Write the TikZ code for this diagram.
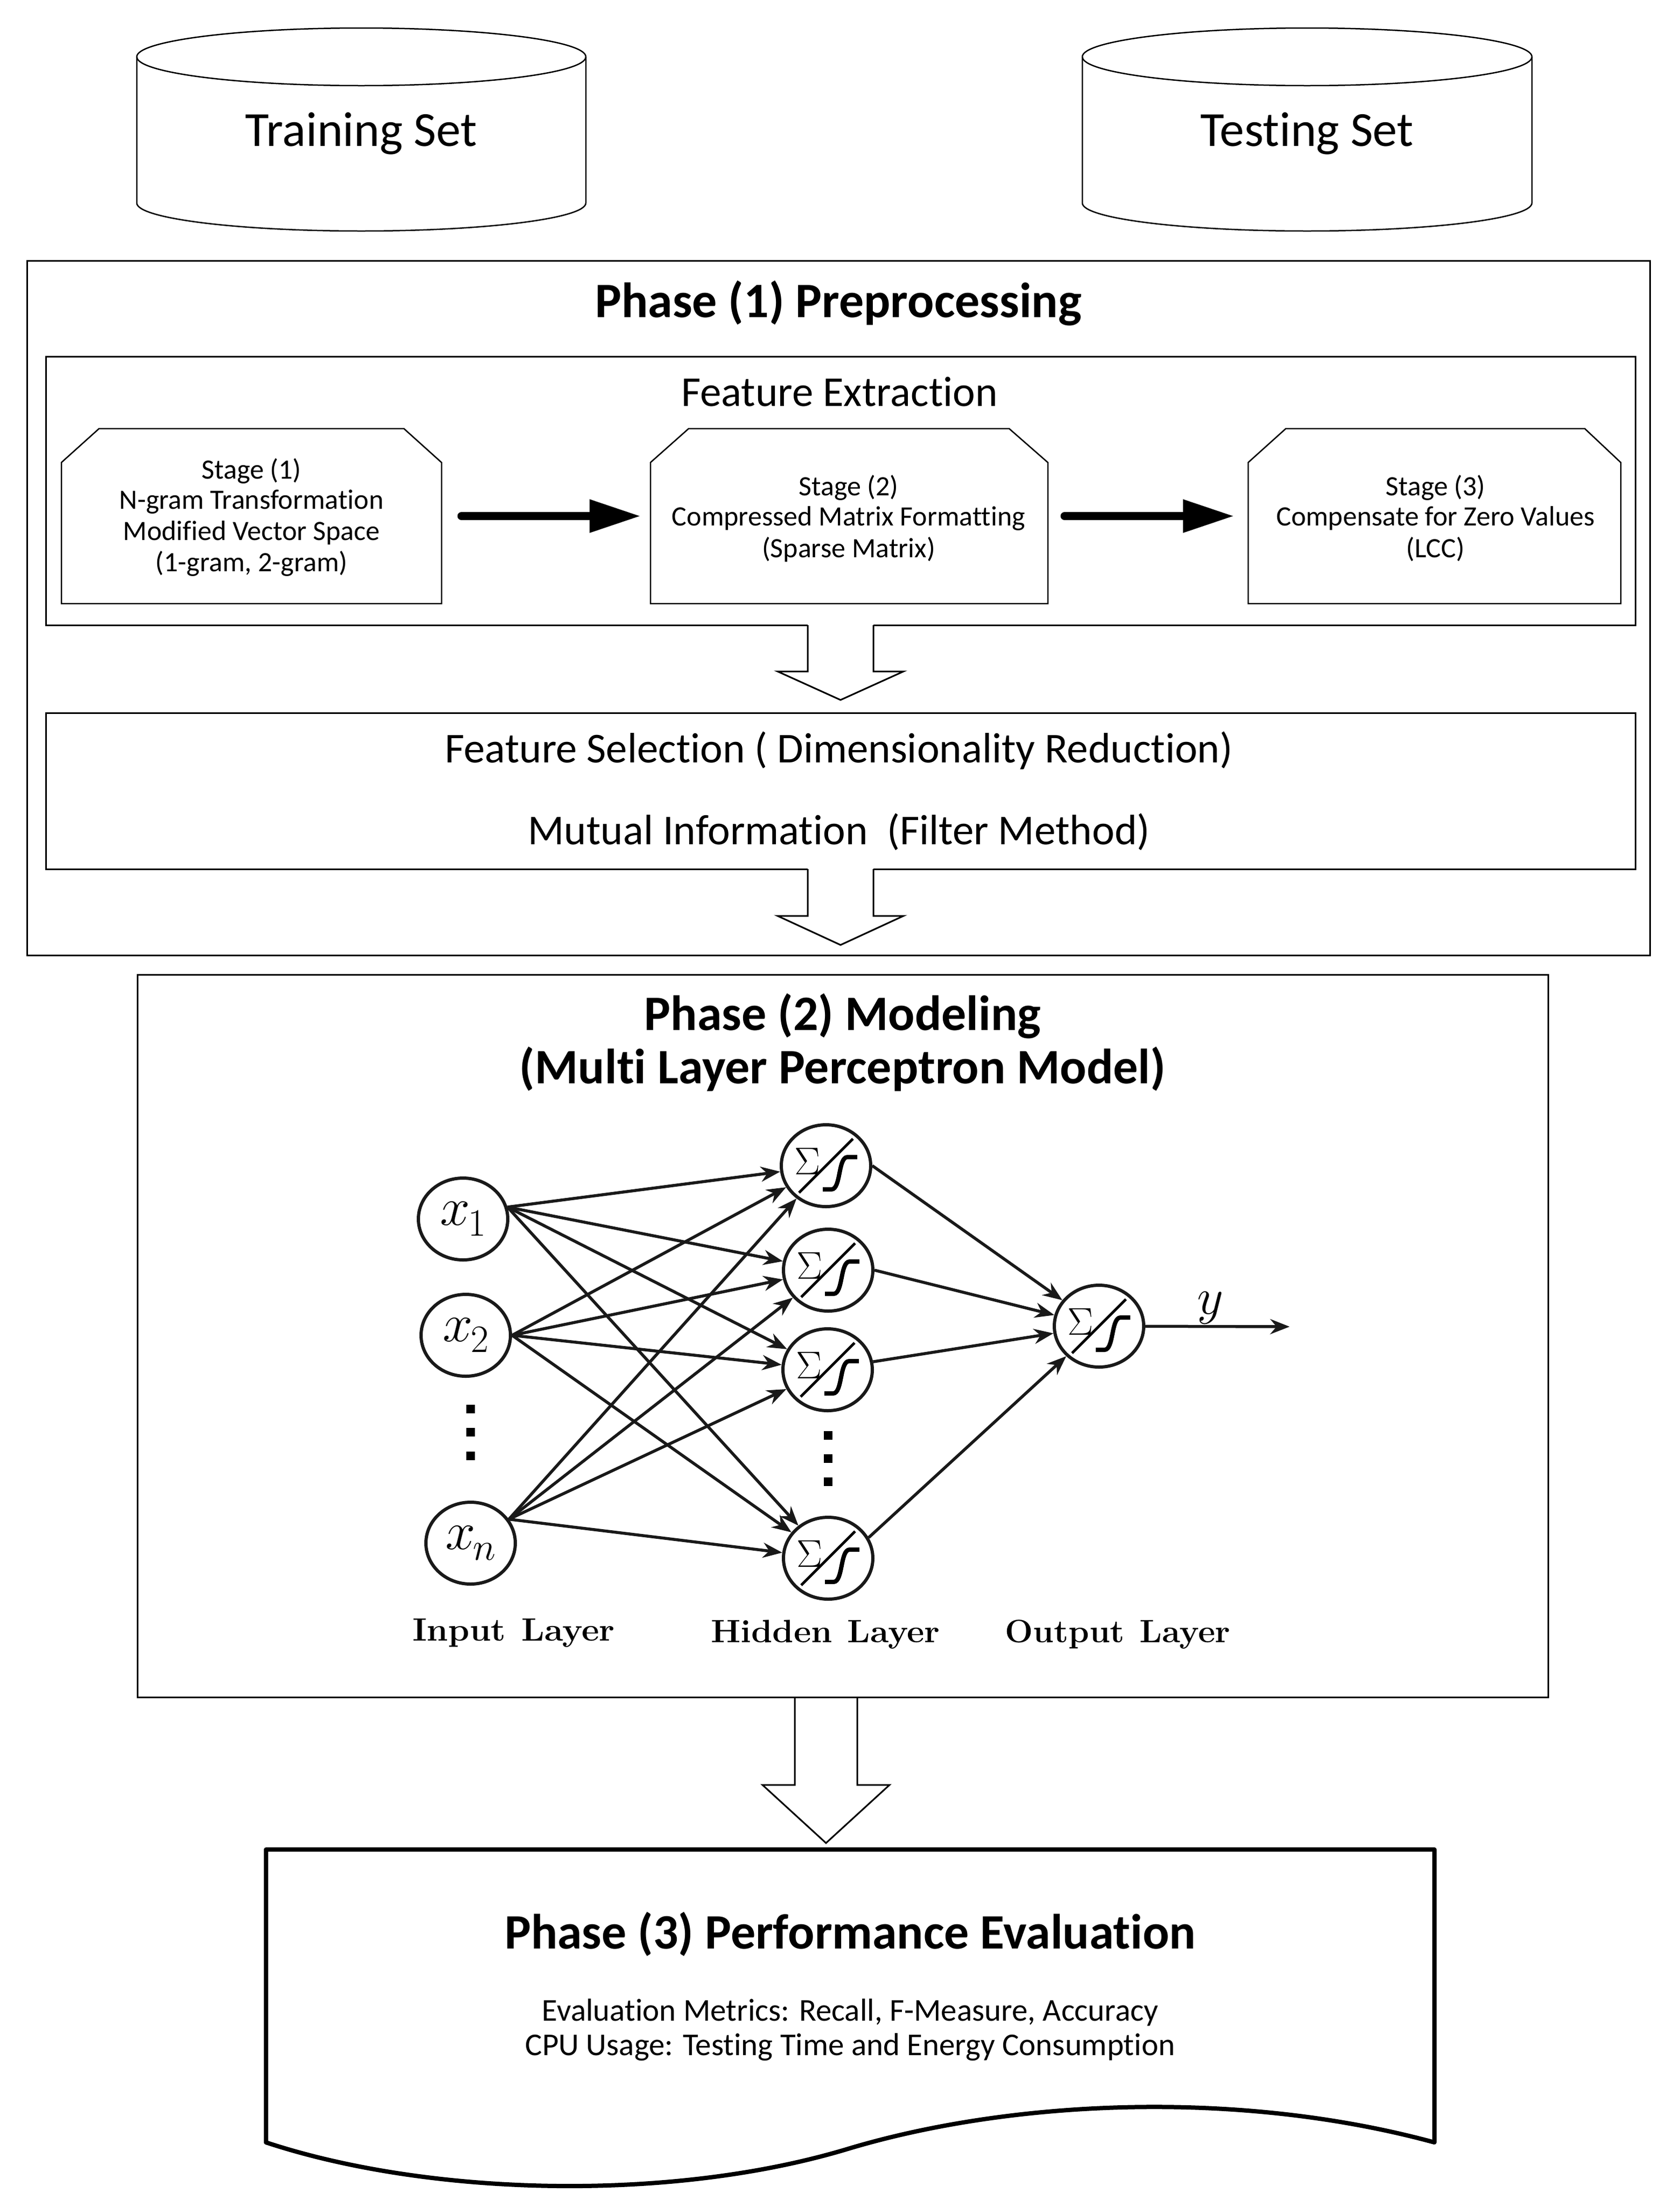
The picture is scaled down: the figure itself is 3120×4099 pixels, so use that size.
\RequirePackage{fix-cm}
\documentclass[tikz,border=0pt]{standalone}
\usepackage{fontspec}
\usepackage{graphicx}
\newfontfamily\calib{Carlito}[Ligatures=NoCommon]
\usetikzlibrary{shapes.geometric,arrows.meta,calc}
\newcommand\fsz[1]{\fontsize{#1}{#1}\selectfont}
\newcommand\xsub[1]{$x$\kern-4pt\raisebox{-0.2em}{\fsz{72}$#1$}}
\newcommand\hollowarrow[6]{%
 \fill[white] ($(#1)+(-#2,-#6)$) -- ($(#1)+(-#2,#3)$) -- ($(#1)+(-#4,#3)$) -- ($(#1)+(0,#5)$) -- ($(#1)+(#4,#3)$) -- ($(#1)+(#2,#3)$) -- ($(#1)+(#2,-#6)$) -- cycle;
 \draw[hollow] ($(#1)+(-#2,0)$) -- ($(#1)+(-#2,#3)$) -- ($(#1)+(-#4,#3)$) -- ($(#1)+(0,#5)$) -- ($(#1)+(#4,#3)$) -- ($(#1)+(#2,#3)$) -- ($(#1)+(#2,0)$);
}
\newcommand\neurondeco[1]{%
 \node[font=\fsz{72}, inner sep=0pt] (#1sig) at ($(#1.center)+(-34,-8)$) {$\Sigma$};
 \draw[line width=5pt] ($(#1.center)+(-50,50)$) -- ($(#1.center)+(50,-50)$);
 \draw[line width=8pt] ($(#1.center)+(-6,44)$) -- ++(16,0) .. controls +(18,0) and +(-18,0) .. ++(30,-60) -- ++(18,0);
}
\begin{document}
\begin{tikzpicture}[x=1pt,y=-1pt,
  boxline/.style={draw, line width=3pt, inner sep=0pt, outer sep=0pt},
  ghost/.style={inner sep=0pt, outer sep=0pt},
  cyl/.style={line width=2.5pt},
  stagebox/.style={line width=2.5pt, line join=miter},
  regtxt/.style={anchor=base, inner sep=0pt, font={\calib\fsz{#1}}},
  boldtxt/.style={anchor=base, inner sep=0pt, font={\calib\bfseries\fsz{#1}}},
  blackarrow/.style={line width=15pt, line cap=round, -{Triangle[length=95pt,width=58pt]}},
  hollow/.style={line width=3pt, line join=miter},
  neuron/.style={ellipse, draw=black!90, line width=6pt, minimum width=166pt, minimum height=152pt, inner sep=0pt},
  nnarrow/.style={line width=5.5pt, draw=black!90, -{Stealth[length=36pt,width=28pt]}},
  sq/.style={rectangle, fill=black, minimum size=16pt, inner sep=0pt},
  nnlabel/.style={anchor=base, inner sep=0pt, font={\bfseries\fsz{60}}},
  doc/.style={line width=8pt, line join=round, line cap=round}]
\fill[white] (0,0) rectangle (3120,4099);
\useasboundingbox (0,0) rectangle (3120,4099);

% ---- cylinders
\draw[cyl] (671,105.5) ellipse [x radius=417, y radius=53.5];
\draw[cyl] (254,105.5) -- (254,377) arc[start angle=180, end angle=0, x radius=417, y radius=52] -- (1088,105.5);
\node[regtxt=91] (trainT) at (671,271) {Training Set};
\draw[cyl] (2427.5,105.5) ellipse [x radius=417.5, y radius=53.5];
\draw[cyl] (2010,105.5) -- (2010,377) arc[start angle=180, end angle=0, x radius=417.5, y radius=52] -- (2845,105.5);
\node[regtxt=91] (testT) at (2427.5,271) {Testing Set};

% ---- phase 1
\node[boxline, minimum width=3014pt, minimum height=1290pt] (p1) at (1557,1129) {};
\node[boldtxt=92] (p1T) at (1557,589) {Phase (1) Preprocessing};
\node[boxline, minimum width=2952pt, minimum height=499pt] (fe) at (1561,911.5) {};
\node[regtxt=79] (feT) at (1559,754) {Feature Extraction};

\draw[stagebox] (114,1121) -- (114,859) -- (184,796) -- (750,796) -- (820,859) -- (820,1121) -- cycle;
\node[ghost, minimum width=706pt, minimum height=325pt] (s1) at (467,958.5) {};
\node[regtxt=52] (s1a) at (467,889) {Stage (1)};
\node[regtxt=52] (s1b) at (467,945) {N-gram Transformation};
\node[regtxt=52] (s1c) at (467,1003) {Modified Vector Space};
\node[regtxt=52] (s1d) at (467,1061) {(1-gram, 2-gram)};

\draw[stagebox] (1208,1121) -- (1208,859) -- (1279,796) -- (1874,796) -- (1946,859) -- (1946,1121) -- cycle;
\node[ghost, minimum width=738pt, minimum height=325pt] (s2) at (1577,958.5) {};
\node[regtxt=52] (s2a) at (1576,920) {Stage (2)};
\node[regtxt=52] (s2b) at (1576,976) {Compressed Matrix Formatting};
\node[regtxt=52] (s2c) at (1576,1035) {(Sparse Matrix)};

\draw[stagebox] (2318,1121) -- (2318,859) -- (2388,796) -- (2943,796) -- (3010,859) -- (3010,1121) -- cycle;
\node[ghost, minimum width=692pt, minimum height=325pt] (s3) at (2664,958.5) {};
\node[regtxt=52] (s3a) at (2666,920) {Stage (3)};
\node[regtxt=52] (s3b) at (2666,976) {Compensate for Zero Values};
\node[regtxt=52] (s3c) at (2666,1035) {(LCC)};

\draw[blackarrow, shorten <=37pt, shorten >=18pt] (s1.east) -- (s2.west);
\draw[blackarrow, shorten <=31pt, shorten >=26pt] (s2.east) -- (s3.west);

\node[boxline, minimum width=2952pt, minimum height=290pt] (fs) at (1561,1469) {};
\node[regtxt=79] (fsT1) at (1558,1416) {Feature Selection ( Dimensionality Reduction)};
\node[regtxt=79] (fsT2) at (1558,1568) {Mutual Information~ (Filter Method)};

\coordinate (a1) at (fe.south);
\hollowarrow{a1}{61}{86}{117}{139}{3}
\coordinate (a2) at (fs.south);
\hollowarrow{a2}{61}{87}{117}{141}{3}

% ---- phase 2
\node[boxline, minimum width=2620pt, minimum height=1342pt] (p2) at (1565,2481) {};
\node[boldtxt=92] (p2T1) at (1565,1913) {Phase (2) Modeling};
\node[boldtxt=92] (p2T2) at (1565,2012) {(Multi Layer Perceptron Model)};

\node[neuron, font=\fsz{100}] (x1) at (860,2264) {\xsub{1}};
\node[neuron, font=\fsz{100}] (x2) at (865,2480) {\xsub{2}};
\node[neuron, font=\fsz{100}] (xn) at (874,2866) {\xsub{n}};
\node[sq] (id1) at (874,2617) {};
\node[sq] (id2) at (874,2660) {};
\node[sq] (id3) at (874,2704) {};

\node[neuron] (h1) at (1534,2165) {};
\node[neuron] (h2) at (1538,2359) {};
\node[neuron] (h3) at (1537,2544) {};
\node[neuron] (h4) at (1538,2894) {};
\node[sq] (hd1) at (1538,2666) {};
\node[sq] (hd2) at (1538,2709) {};
\node[sq] (hd3) at (1538,2752) {};
\node[neuron] (out) at (2041,2463) {};
\foreach \n in {h1,h2,h3,h4,out}{\neurondeco{\n}}

\foreach \h in {h1,h2,h3,h4}{
  \draw[nnarrow] (x1.15) -- (\h);
  \draw[nnarrow] (x2.east) -- (\h);
  \draw[nnarrow] (xn.32) -- (\h);
}
\draw[nnarrow] (h1.east) -- (out);
\draw[nnarrow] (h2.east) -- (out);
\draw[nnarrow] (h3.10) -- (out);
\draw[nnarrow] (h4.27) -- (out);
\coordinate (yend) at (2395,2464);
\draw[nnarrow] (out) -- (yend);
\node[font=\fsz{95}, inner sep=0pt] (ylab) at (2248,2429) {$y$};

\node[nnlabel] (inL) at (954,3047) {\scalebox{1.06}[1]{Input\hspace{0.45em}Layer}};
\node[nnlabel] (hidL) at (1533,3050) {\scalebox{1.05}[1]{Hidden\hspace{0.45em}Layer}};
\node[nnlabel] (outL) at (2076,3050) {\scalebox{1.03}[1]{Output\hspace{0.45em}Layer}};

% ---- phase 3
\draw[doc] (494,3979) -- (494,3435) -- (2664,3435) -- (2664,3979) .. controls (2300,3880) and (1880,3900) .. (1578,3990) .. controls (1250,4090) and (800,4080) .. (494,3979) -- cycle;
\node[ghost, minimum width=2170pt, minimum height=544pt] (p3) at (1579,3707) {};
\node[boldtxt=92] (p3T) at (1579,3619) {Phase (3) Performance Evaluation};
\node[regtxt=59] (p3a) at (1579,3753) {Evaluation Metrics: Recall, F-Measure, Accuracy};
\node[regtxt=59] (p3b) at (1579,3817) {CPU Usage: Testing Time and Energy Consumption};

\coordinate (a3) at ($(p2.south)+(-31,0)$);
\hollowarrow{a3}{58}{163}{118}{271}{-2}
\end{tikzpicture}
\end{document}
